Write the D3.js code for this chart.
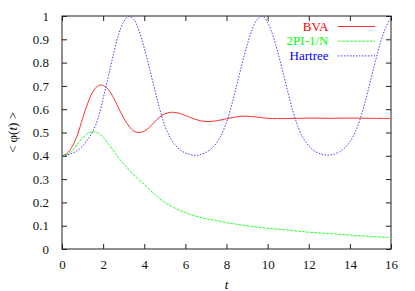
<!DOCTYPE html>
<html>
<head>
<meta charset="utf-8">
<script src="https://cdn.jsdelivr.net/npm/d3@7"></script>
<style>
  body { margin: 0; background: #fff; }
  svg { display: block; }
</style>
</head>
<body>
<div id="chart"></div>
<script>
// Data
const seriesNames = ['BVA', '2PI-1/N', 'Hartree'];

const bvaT = [0, 0.25, 0.5, 0.75, 1, 1.25, 1.5, 1.75, 1.9, 2, 2.25, 2.5, 2.75, 3, 3.25, 3.5, 3.75, 4, 4.25, 4.5, 4.75, 5, 5.33, 5.75, 6, 6.5, 7, 7.5, 8, 8.75, 9.5, 10, 11, 12, 13, 14, 15, 16];
const bvaV = [0.400, 0.410, 0.440, 0.490, 0.560, 0.625, 0.675, 0.700, 0.704, 0.702, 0.685, 0.650, 0.605, 0.562, 0.528, 0.506, 0.500, 0.506, 0.522, 0.545, 0.566, 0.580, 0.587, 0.581, 0.573, 0.556, 0.547, 0.550, 0.559, 0.570, 0.566, 0.561, 0.560, 0.562, 0.561, 0.562, 0.561, 0.560];

const twoPiT = [0, 0.25, 0.5, 0.75, 1, 1.25, 1.5, 1.75, 2, 2.25, 2.5, 2.75, 3, 3.5, 4, 4.5, 5, 5.5, 6, 6.5, 7, 7.5, 8, 9, 10, 11, 12, 13, 14, 15, 16];
const twoPiV = [0.400, 0.406, 0.422, 0.450, 0.476, 0.496, 0.504, 0.498, 0.480, 0.452, 0.422, 0.392, 0.365, 0.318, 0.277, 0.235, 0.200, 0.175, 0.156, 0.141, 0.130, 0.122, 0.113, 0.100, 0.089, 0.081, 0.072, 0.066, 0.060, 0.054, 0.049];

const hartreeT = [0, 0.25, 0.5, 0.75, 1, 1.25, 1.5, 1.75, 2, 2.25, 2.5, 2.75, 3, 3.25, 3.5, 3.75, 4, 4.25, 4.5, 4.75, 5, 5.25, 5.5, 5.75, 6, 6.25, 6.5, 6.75, 7, 7.25, 7.5, 7.75, 8, 8.25, 8.5, 8.75, 9, 9.25, 9.5, 9.75, 10, 10.25, 10.5, 10.75, 11, 11.25, 11.5, 11.75, 12, 12.25, 12.5, 12.75, 13, 13.25, 13.5, 13.75, 14, 14.25, 14.5, 14.75, 15, 15.25, 15.5, 15.75, 16];
const hartreeV = [0.400, 0.404, 0.411, 0.423, 0.442, 0.470, 0.505, 0.560, 0.645, 0.740, 0.835, 0.920, 0.975, 0.999, 0.985, 0.935, 0.862, 0.777, 0.687, 0.602, 0.530, 0.480, 0.447, 0.425, 0.412, 0.405, 0.402, 0.406, 0.415, 0.429, 0.454, 0.490, 0.544, 0.617, 0.703, 0.792, 0.874, 0.942, 0.986, 0.999, 0.972, 0.918, 0.843, 0.757, 0.668, 0.586, 0.520, 0.473, 0.443, 0.422, 0.411, 0.404, 0.403, 0.408, 0.417, 0.434, 0.460, 0.500, 0.558, 0.634, 0.721, 0.809, 0.889, 0.952, 0.993];

const xTicks = [0, 2, 4, 6, 8, 10, 12, 14, 16];
const yTicks = [0, 0.1, 0.2, 0.3, 0.4, 0.5, 0.6, 0.7, 0.8, 0.9, 1];

// Layout
const W = 415, H = 291;
const margin = {top: 16, right: 24, bottom: 42, left: 62};
const width = W - margin.left - margin.right;
const height = H - margin.top - margin.bottom;
const serif = '"Liberation Serif", "DejaVu Serif", serif';

const svg = d3.select('#chart')
    .append('svg')
    .attr('width', W)
    .attr('height', H);

const g = svg.append('g')
    .attr('transform', `translate(${margin.left},${margin.top})`);

const x = d3.scaleLinear().domain([0, 16]).range([0, width]);
const y = d3.scaleLinear().domain([0, 1]).range([height, 0]);

// Clip
svg.append('defs').append('clipPath')
    .attr('id', 'plot-clip')
    .append('rect')
    .attr('width', width)
    .attr('height', height);

// Axes (gnuplot style: inward ticks mirrored on all sides)
const fmt = d => (d === 0 || d === 1) ? String(d) : d3.format('.1f')(d);

function styleAxis(sel) {
    sel.attr('font-family', serif).attr('font-size', 13);
    sel.select('.domain').remove();
    sel.selectAll('.tick line').attr('stroke', '#222').attr('stroke-width', 1);
    sel.selectAll('.tick text')
        .attr('fill', '#111')
        .style('font-family', serif)
        .style('font-size', '13px');
}

g.append('g')
    .attr('transform', `translate(0,${height})`)
    .call(d3.axisBottom(x).tickValues(xTicks).tickSize(-5).tickPadding(11))
    .call(styleAxis);

g.append('g')
    .call(d3.axisTop(x).tickValues(xTicks).tickSize(-5).tickFormat(''))
    .call(styleAxis);

g.append('g')
    .call(d3.axisLeft(y).tickValues(yTicks).tickSize(-5).tickPadding(13).tickFormat(fmt))
    .call(styleAxis);

g.append('g')
    .attr('transform', `translate(${width},0)`)
    .call(d3.axisRight(y).tickValues(yTicks).tickSize(-5).tickFormat(''))
    .call(styleAxis);

// Frame
g.append('rect')
    .attr('width', width)
    .attr('height', height)
    .attr('fill', 'none')
    .attr('stroke', '#222')
    .attr('stroke-width', 1);

// Curves
const line = d3.line()
    .x(d => x(d[0]))
    .y(d => y(d[1]))
    .curve(d3.curveCatmullRom.alpha(0.5));

const series = [
    {name: seriesNames[0], pts: d3.zip(bvaT, bvaV), color: '#ff3030', text: '#ff0000', dash: null},
    {name: seriesNames[1], pts: d3.zip(twoPiT, twoPiV), color: '#30ff30', text: '#00ff00', dash: '3,1'},
    {name: seriesNames[2], pts: d3.zip(hartreeT, hartreeV), color: '#4040ff', text: '#0000ff', dash: '1.5,1.5'}
];

const plot = g.append('g').attr('clip-path', 'url(#plot-clip)');

series.forEach(s => {
    plot.append('path')
        .datum(s.pts)
        .attr('fill', 'none')
        .attr('stroke', s.color)
        .attr('stroke-width', 1)
        .attr('stroke-dasharray', s.dash)
        .attr('d', line);
});

// Legend
const legend = svg.append('g');
series.forEach((s, i) => {
    const yy = 30.5 + i * 14.7;
    legend.append('text')
        .attr('x', 328.5)
        .attr('y', yy)
        .attr('text-anchor', 'end')
        .attr('fill', s.text)
        .style('font-family', serif)
        .style('font-size', '13px')
        .text(s.name);
    legend.append('line')
        .attr('x1', 338)
        .attr('x2', 375)
        .attr('y1', yy - 4)
        .attr('y2', yy - 4)
        .attr('stroke', s.color)
        .attr('stroke-width', 1)
        .attr('stroke-dasharray', s.dash);
});

// Axis titles
svg.append('text')
    .attr('x', margin.left + width / 2)
    .attr('y', 288.5)
    .attr('text-anchor', 'middle')
    .style('font-family', serif)
    .style('font-size', '13px')
    .style('font-style', 'italic')
    .text('t');

const yTitle = svg.append('text')
    .attr('transform', `translate(17,${margin.top + height / 2}) rotate(-90)`)
    .attr('text-anchor', 'middle')
    .style('font-family', serif)
    .style('font-size', '13px');
yTitle.append('tspan').text('< φ(');
yTitle.append('tspan').style('font-style', 'italic').text('t');
yTitle.append('tspan').text(') >');
</script>
</body>
</html>
